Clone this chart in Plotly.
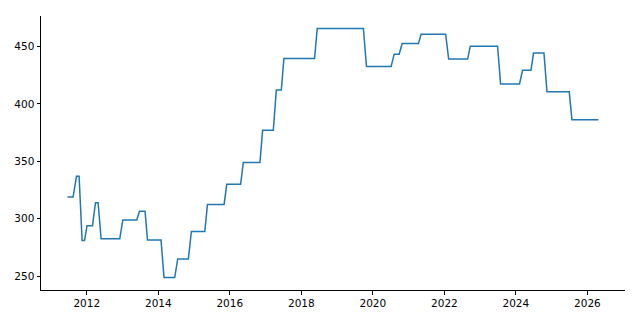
import pandas as pd
import plotly.graph_objects as go

# Step-change corners of the series (decimal year, value)
years = [
    2011.461, 2011.617, 2011.712, 2011.785, 2011.869, 2011.936, 2012.008, 2012.159,
    2012.243, 2012.316, 2012.400, 2012.920, 2013.006, 2013.397, 2013.472, 2013.628,
    2013.696, 2014.075, 2014.159, 2014.458, 2014.542, 2014.840, 2014.925, 2015.300,
    2015.375, 2015.840, 2015.915, 2016.302, 2016.377, 2016.841, 2016.916, 2017.215,
    2017.299, 2017.439, 2017.511, 2018.369, 2018.444, 2019.737, 2019.821, 2020.511,
    2020.595, 2020.735, 2020.819, 2021.274, 2021.349, 2022.036, 2022.120, 2022.651,
    2022.726, 2023.489, 2023.573, 2024.103, 2024.187, 2024.422, 2024.494, 2024.785,
    2024.869, 2025.492, 2025.567, 2026.310,
]
values = [
    319.0, 319.0, 337.0, 337.0, 281.0, 281.0, 294.0, 294.0,
    314.0, 314.0, 282.5, 282.5, 299.0, 299.0, 306.5, 306.5,
    281.5, 281.5, 248.8, 248.8, 265.0, 265.0, 289.0, 289.0,
    312.5, 312.5, 330.0, 330.0, 349.0, 349.0, 377.0, 377.0,
    412.0, 412.0, 439.5, 439.5, 465.7, 465.7, 432.5, 432.5,
    443.3, 443.3, 452.5, 452.5, 460.7, 460.7, 439.0, 439.0,
    450.3, 450.3, 417.4, 417.4, 429.2, 429.2, 444.3, 444.3,
    410.5, 410.5, 386.3, 386.3,
]
y_ticks = [250, 300, 350, 400, 450]
x_tick_years = [2012, 2014, 2016, 2018, 2020, 2022, 2024, 2026]


def to_date(t):
    y = int(t)
    a = pd.Timestamp(year=y, month=1, day=1)
    b = pd.Timestamp(year=y + 1, month=1, day=1)
    return a + (t - y) * (b - a)


dates = [to_date(t) for t in years]

# matplotlib-like 5% auto margins
tmin, tmax = min(years), max(years)
tpad = 0.05 * (tmax - tmin)
vmin, vmax = min(values), max(values)
vpad = 0.05 * (vmax - vmin)

fig = go.Figure()
fig.add_trace(go.Scatter(
    x=dates, y=values, mode="lines",
    line=dict(color="#1f77b4", width=1.5),
    showlegend=False, hoverinfo="skip",
))

axis_common = dict(
    showgrid=False, zeroline=False, showline=True, linecolor="black", linewidth=1,
    ticks="outside", ticklen=3.5, tickwidth=1, tickcolor="black",
    tickfont=dict(family="DejaVu Sans", size=10.5, color="black"),
    mirror=False,
)

fig.update_layout(
    width=640, height=320,
    margin=dict(l=41, r=15, t=16, b=30),
    paper_bgcolor="white", plot_bgcolor="white",
    xaxis=dict(
        range=[to_date(tmin - tpad), to_date(tmax + tpad)],
        tickvals=[pd.Timestamp(year=y, month=1, day=1) for y in x_tick_years],
        ticktext=[str(y) for y in x_tick_years],
        **axis_common,
    ),
    yaxis=dict(
        range=[vmin - vpad, vmax + vpad],
        tickvals=y_ticks,
        ticktext=[str(v) for v in y_ticks],
        **axis_common,
    ),
)

fig.write_html("out.html")
